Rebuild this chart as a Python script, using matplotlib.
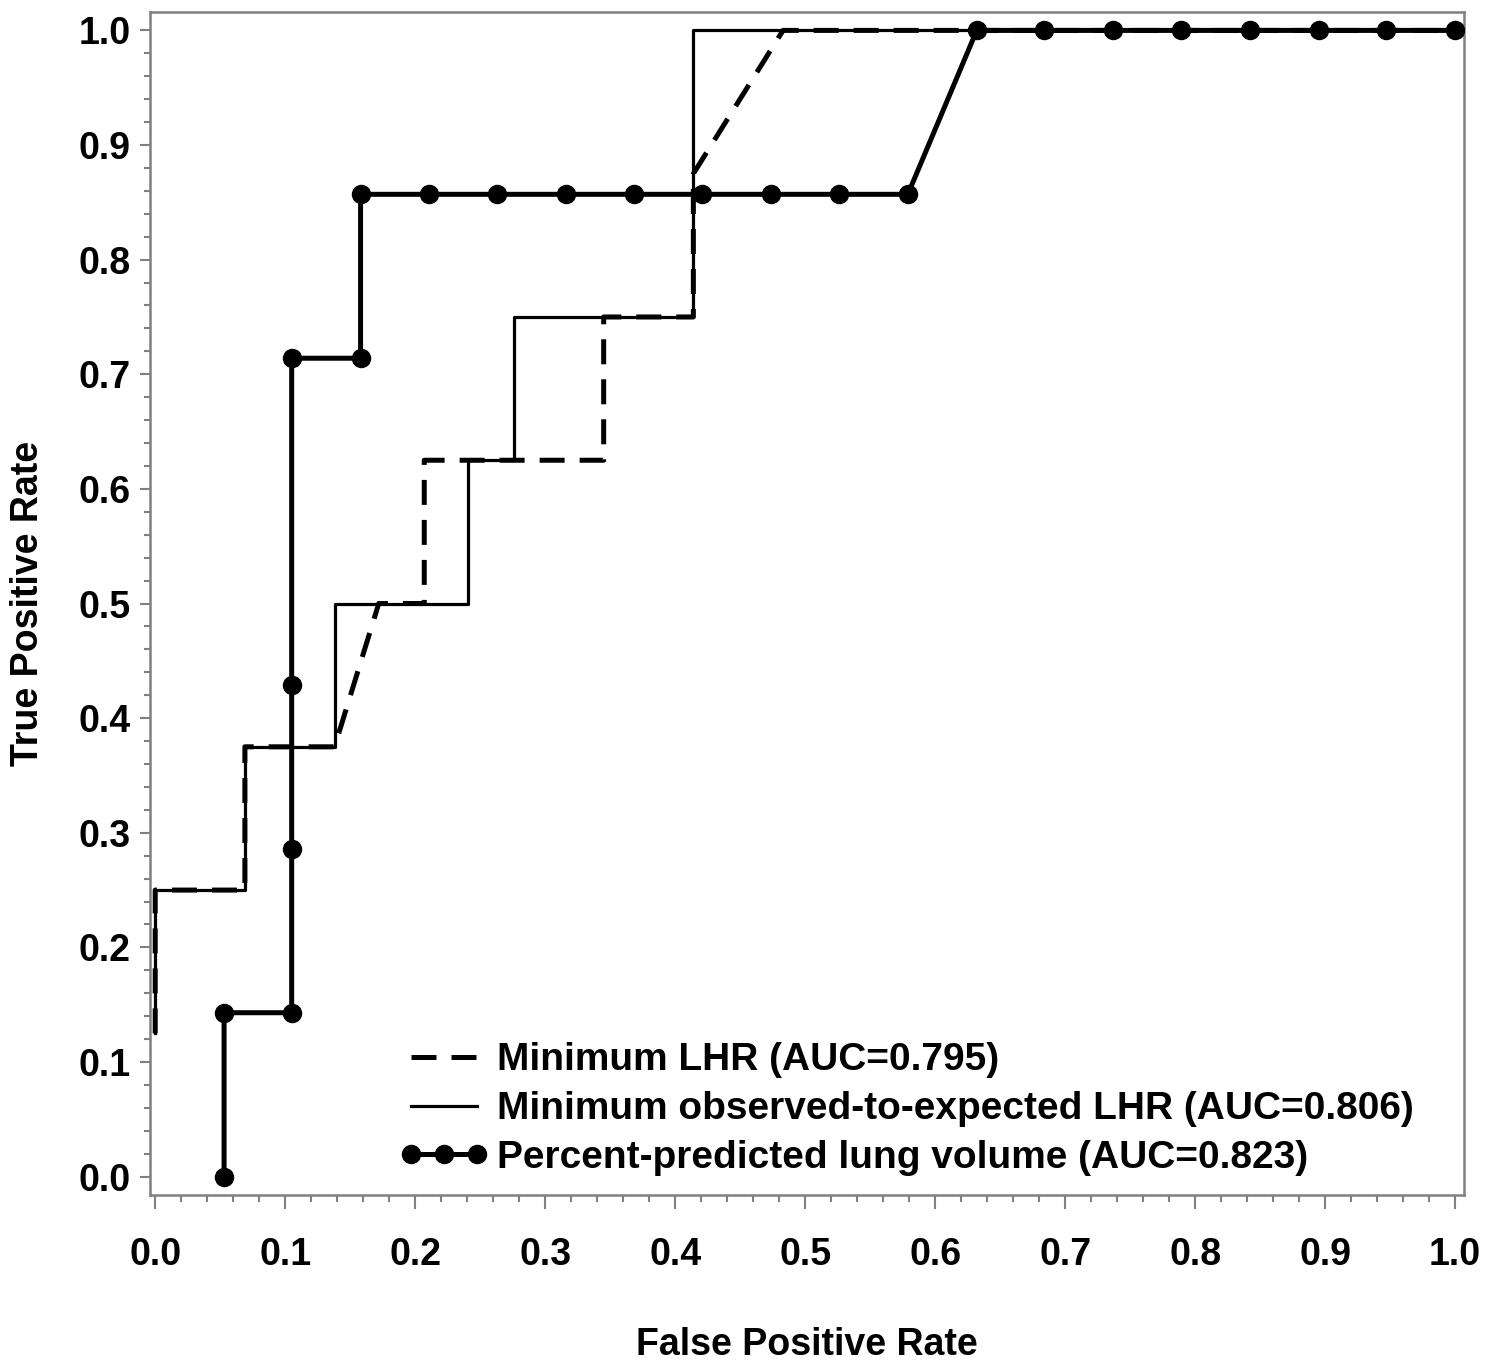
import matplotlib.pyplot as plt
from matplotlib.ticker import MultipleLocator

plt.rcParams['font.family'] = ['Liberation Sans', 'DejaVu Sans']
plt.rcParams['font.weight'] = 'bold'

# ROC curve points
lhr_fpr = [0.0, 0.0, 0.069, 0.069, 0.138, 0.172, 0.207, 0.207, 0.345, 0.345, 0.414, 0.414, 0.483, 1.0]
lhr_tpr = [0.125, 0.25, 0.25, 0.375, 0.375, 0.5, 0.5, 0.625, 0.625, 0.75, 0.75, 0.875, 1.0, 1.0]

oe_fpr = [0.0, 0.0, 0.069, 0.069, 0.138, 0.138, 0.241, 0.241, 0.276, 0.276, 0.414, 0.414, 1.0]
oe_tpr = [0.125, 0.25, 0.25, 0.375, 0.375, 0.5, 0.5, 0.625, 0.625, 0.75, 0.75, 1.0, 1.0]

vol_fpr = [0.053, 0.053, 0.105, 0.105, 0.105, 0.105, 0.158,
           0.158, 0.211, 0.263, 0.316, 0.368, 0.421, 0.474, 0.526, 0.579,
           0.632, 0.684, 0.737, 0.789, 0.842, 0.895, 0.947, 1.0]
vol_tpr = [0.0, 0.143, 0.143, 0.286, 0.429, 0.714, 0.714,
           0.857, 0.857, 0.857, 0.857, 0.857, 0.857, 0.857, 0.857, 0.857,
           1.0, 1.0, 1.0, 1.0, 1.0, 1.0, 1.0, 1.0]

labels = ['Minimum LHR (AUC=0.795)',
          'Minimum observed-to-expected LHR (AUC=0.806)',
          'Percent-predicted lung volume (AUC=0.823)']

ticks = [0.0, 0.1, 0.2, 0.3, 0.4, 0.5, 0.6, 0.7, 0.8, 0.9, 1.0]

fig = plt.figure(figsize=(14.85, 13.71), dpi=100)
ax = fig.add_axes([0.101, 0.1284, 0.885, 0.8628])

ax.plot(oe_fpr, oe_tpr, color='black', linewidth=2.3, label=labels[1], zorder=2)
ax.plot(lhr_fpr, lhr_tpr, color='black', linewidth=3.6, dashes=(5, 3), label=labels[0], zorder=3)
ax.plot(vol_fpr, vol_tpr, color='black', linewidth=3.6, marker='o', markersize=13,
        label=labels[2], zorder=4)

ax.set_xlim(-0.004, 1.007)
ax.set_ylim(-0.016, 1.016)
ax.set_xticks(ticks)
ax.set_yticks(ticks)
ax.set_xticklabels([f'{t:.1f}' for t in ticks])
ax.set_yticklabels([f'{t:.1f}' for t in ticks])
ax.xaxis.set_minor_locator(MultipleLocator(0.02))
ax.yaxis.set_minor_locator(MultipleLocator(0.02))

ax.tick_params(axis='x', which='major', length=10, width=1.5, color='#808080', pad=20, labelsize=27)
ax.tick_params(axis='x', which='minor', length=5, width=1.5, color='#808080')
ax.tick_params(axis='y', which='major', length=7, width=1.5, color='#808080', pad=7, labelsize=27)
ax.tick_params(axis='y', which='minor', length=4, width=1.5, color='#808080')
for s in ax.spines.values():
    s.set_color('#808080')
    s.set_linewidth(1.8)

ax.set_xlabel('False Positive Rate', fontsize=27, fontweight='bold')
ax.set_ylabel('True Positive Rate', fontsize=27, fontweight='bold')
ax.xaxis.set_label_coords(0.5, -0.127)
ax.yaxis.set_label_coords(-0.093, 0.5)
ax.xaxis.label.set_va('center')
ax.yaxis.label.set_va('center')

handles, labs = ax.get_legend_handles_labels()
order = [labs.index(l) for l in labels]
ax.legend([handles[i] for i in order], [labs[i] for i in order],
          loc='lower left', bbox_to_anchor=(0.19, 0.016), frameon=False,
          fontsize=28, numpoints=3, handlelength=2.3, handletextpad=0.2,
          borderpad=0, borderaxespad=0, labelspacing=0.33)

fig.savefig('out.png', dpi=100)
